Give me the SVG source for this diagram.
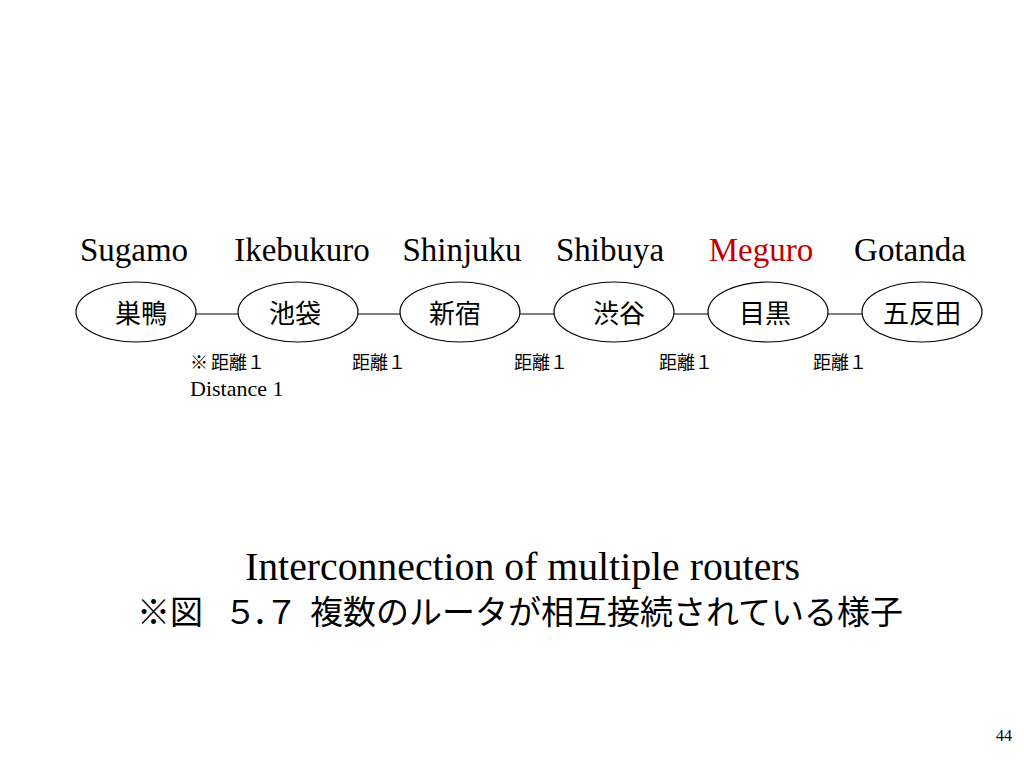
<svg xmlns="http://www.w3.org/2000/svg" width="1024" height="768" viewBox="0 0 1024 768">
<style>
.bg{fill:#fff}
.node ellipse{fill:#fff;stroke:#000;stroke-width:1.2}
.jp{font-family:"Noto Sans CJK JP","Noto Sans",sans-serif;fill:#000}
.en{font-family:"Liberation Serif","Times New Roman",serif;fill:#000}
.conn line{stroke:#000;stroke-width:1.2}
</style>
<rect class="bg" x="0" y="0" width="1024" height="768"/>
<g id="connectors" class="conn">
<line x1="196" y1="314" x2="239" y2="314"/>
<line x1="358" y1="314" x2="401" y2="314"/>
<line x1="520" y1="314" x2="555" y2="314"/>
<line x1="674" y1="314" x2="708" y2="314"/>
<line x1="827" y1="314" x2="863" y2="314"/>
</g>
<g id="sugamo" class="node">
<ellipse cx="136" cy="312" rx="60" ry="30"/>
<text class="jp" x="141" y="323" font-size="26" text-anchor="middle">巣鴨</text>
<text class="en" x="134" y="261" font-size="33" text-anchor="middle">Sugamo</text>
</g>
<g id="ikebukuro" class="node">
<ellipse cx="298" cy="312" rx="60" ry="30"/>
<text class="jp" x="295" y="323" font-size="26" text-anchor="middle">池袋</text>
<text class="en" x="302" y="261" font-size="33" text-anchor="middle">Ikebukuro</text>
</g>
<g id="shinjuku" class="node">
<ellipse cx="460" cy="312" rx="60" ry="30"/>
<text class="jp" x="455" y="323" font-size="26" text-anchor="middle">新宿</text>
<text class="en" x="462" y="261" font-size="33" text-anchor="middle">Shinjuku</text>
</g>
<g id="shibuya" class="node">
<ellipse cx="614" cy="312" rx="60" ry="30"/>
<text class="jp" x="619" y="323" font-size="26" text-anchor="middle">渋谷</text>
<text class="en" x="610" y="261" font-size="33" text-anchor="middle">Shibuya</text>
</g>
<g id="meguro" class="node">
<ellipse cx="768" cy="312" rx="60" ry="30"/>
<text class="jp" x="765" y="323" font-size="26" text-anchor="middle">目黒</text>
<text class="en" x="761" y="261" font-size="33" text-anchor="middle" style="fill:#c00000">Meguro</text>
</g>
<g id="gotanda" class="node">
<ellipse cx="922" cy="312" rx="60" ry="30"/>
<text class="jp" x="922" y="323" font-size="26" text-anchor="middle">五反田</text>
<text class="en" x="910" y="261" font-size="33" text-anchor="middle">Gotanda</text>
</g>
<g id="distances">
<text class="jp" x="190" y="369" font-size="18">※<tspan dx="3">距離１</tspan></text>
<text class="en" x="190" y="396" font-size="22">Distance 1</text>
<text class="jp" x="352" y="369" font-size="18">距離１</text>
<text class="jp" x="514" y="369" font-size="18">距離１</text>
<text class="jp" x="659" y="369" font-size="18">距離１</text>
<text class="jp" x="813" y="369" font-size="18">距離１</text>
</g>
<g id="caption">
<text class="en" x="245" y="580" font-size="39" textLength="555" lengthAdjust="spacingAndGlyphs">Interconnection of multiple routers</text>
<text class="jp" x="137" y="624" font-size="33" dx="0 0 0 -12 -5 -20 0 -21">※図　５．７　複数のルータが相互接続されている様子</text>
</g>
<text x="1012" y="741" font-size="16" text-anchor="end" style="font-family:'Liberation Serif',serif">44</text>
</svg>
